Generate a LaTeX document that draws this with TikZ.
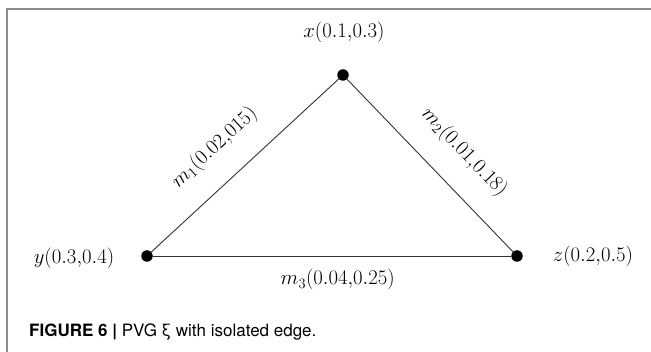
\documentclass[tikz,border=0pt]{standalone}
\usepackage{fontspec}
\newfontfamily\capfont{TeX Gyre Heros}
\begin{document}
\begin{tikzpicture}[x=1pt,y=-1pt,
  vtx/.style={circle,fill=black,draw=none,minimum size=11.5pt,inner sep=0pt},
  vlab/.style={inner sep=0pt,font=\fontsize{21}{25}\selectfont},
  elab/.style={inner sep=0pt,font=\fontsize{21}{25}\selectfont,sloped},
  edg/.style={draw=black!80,line width=0.9pt},
  frame/.style={draw=black!45,line width=1.4pt}]
\useasboundingbox (0,0) rectangle (651,352);
\coordinate (ftr) at (651,9);
\coordinate (ftl) at (7,9);
\coordinate (fbl) at (7,352);
\draw[frame] (ftr) -- (ftl) -- (fbl);
\node[vtx] (x) at (343,75) {};
\node[vtx] (y) at (147,256) {};
\node[vtx] (z) at (517,256) {};
\node[vlab] (xl) at (344,32) {$x(0.1{,}0.3)$};
\node[vlab] (yl) at (74,258) {$y(0.3{,}0.4)$};
\node[vlab] (zl) at (593,256) {$z(0.2{,}0.5)$};
\draw[edg] (y) -- node[elab,pos=0.46,above=23pt] (m1) {$m_1(0.02{,}015)$} (x);
\draw[edg] (x) -- node[elab,pos=0.56,above=23pt] (m2) {$m_2(0.01{,}0.18)$} (z);
\draw[edg] (y) -- node[elab,pos=0.516,below=13pt] (m3) {$m_3(0.04{,}0.25)$} (z);
\node[anchor=west,inner sep=0pt,font=\capfont\fontsize{17}{20}\selectfont] (cap) at (29,332)
  {\textbf{FIGURE 6 |} PVG ξ with isolated edge.};
\end{tikzpicture}
\end{document}
